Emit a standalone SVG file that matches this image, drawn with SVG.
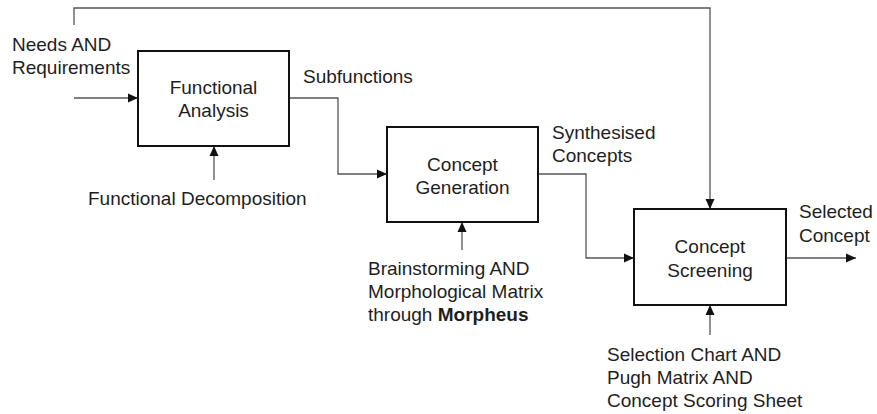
<svg xmlns="http://www.w3.org/2000/svg" width="877" height="414" viewBox="0 0 877 414">
<style>
text{font-family:"Liberation Sans",Arial,sans-serif;font-size:19px;fill:#1e1e1e}
.c{text-anchor:middle}
.box{fill:#fff;stroke:#111;stroke-width:2}
.ln{fill:none;stroke:#555;stroke-width:1.3}
</style>
<defs>
<marker id="ah" viewBox="0 0 10 10" refX="10" refY="5" markerWidth="10" markerHeight="10" markerUnits="userSpaceOnUse" orient="auto">
<path d="M0,0.5 L10,5 L0,9.5 Z" fill="#111"/>
</marker>
</defs>
<rect width="877" height="414" fill="#fff"/>
<g id="connectors">
<path class="ln" d="M74,25 V8 H710 V209" marker-end="url(#ah)"/>
<path class="ln" d="M74,98 H138" marker-end="url(#ah)"/>
<path class="ln" d="M214,180 V146" marker-end="url(#ah)"/>
<path class="ln" d="M289,98 H338 V174 H387" marker-end="url(#ah)"/>
<path class="ln" d="M462,250 V222" marker-end="url(#ah)"/>
<path class="ln" d="M538,174 H586 V258 H634" marker-end="url(#ah)"/>
<path class="ln" d="M710,335 V305" marker-end="url(#ah)"/>
<path class="ln" d="M786,258 H856" marker-end="url(#ah)"/>
</g>
<g id="functional-analysis">
<rect class="box" x="138" y="51" width="151" height="95"/>
<text class="c" x="213.5" y="94">Functional</text>
<text class="c" x="213.5" y="117">Analysis</text>
</g>
<g id="concept-generation">
<rect class="box" x="387" y="127" width="151" height="95"/>
<text class="c" x="462.5" y="171">Concept</text>
<text class="c" x="462.5" y="194">Generation</text>
</g>
<g id="concept-screening">
<rect class="box" x="634" y="209" width="152" height="96"/>
<text class="c" x="710" y="253">Concept</text>
<text class="c" x="710" y="277">Screening</text>
</g>
<g id="labels">
<text x="12" y="51">Needs AND</text>
<text x="12" y="74">Requirements</text>
<text x="88" y="205">Functional Decomposition</text>
<text x="303" y="83">Subfunctions</text>
<text x="552" y="139">Synthesised</text>
<text x="552" y="162">Concepts</text>
<text x="368" y="275">Brainstorming AND</text>
<text x="368" y="298">Morphological Matrix</text>
<text x="368" y="321">through <tspan font-weight="bold">Morpheus</tspan></text>
<text x="799" y="218">Selected</text>
<text x="799" y="242">Concept</text>
<text x="607" y="361">Selection Chart AND</text>
<text x="607" y="384">Pugh Matrix AND</text>
<text x="607" y="407">Concept Scoring Sheet</text>
</g>
</svg>
